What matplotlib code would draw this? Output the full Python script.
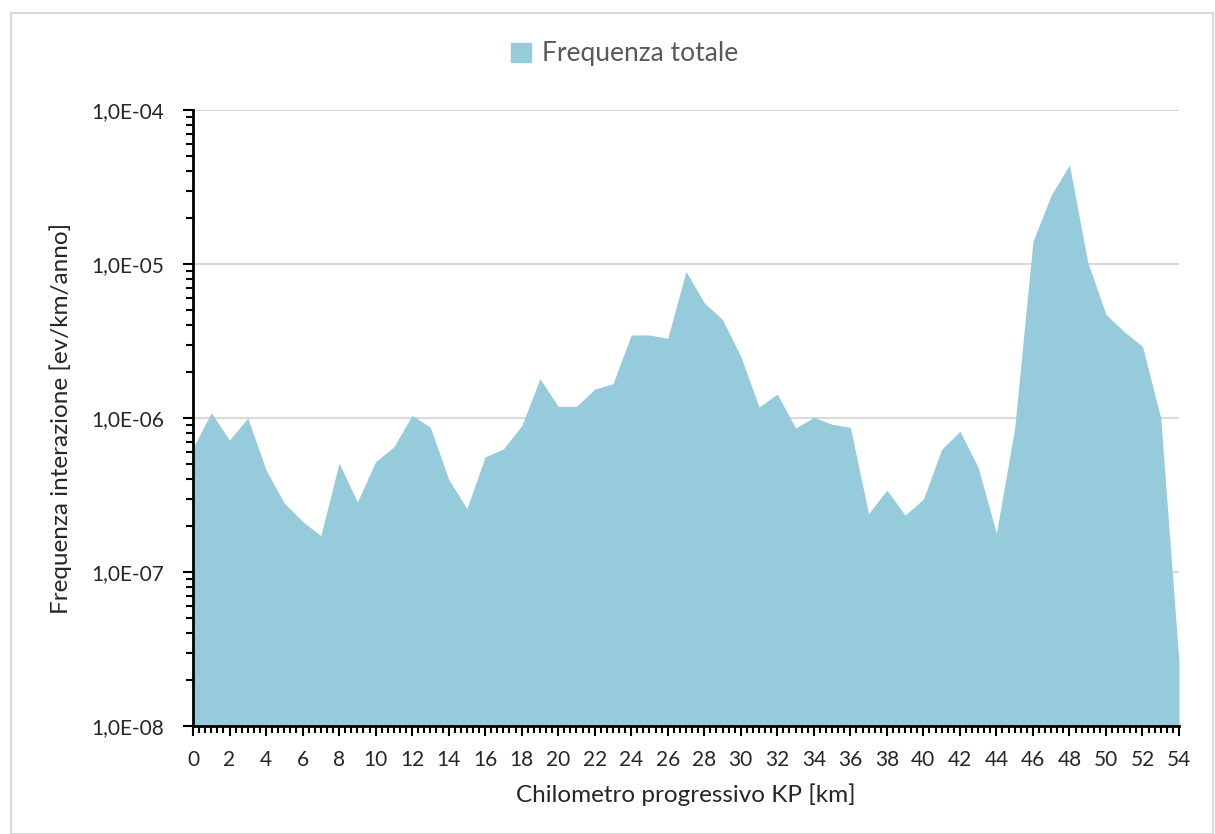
import math
import matplotlib
matplotlib.use('Agg')
from matplotlib import pyplot as plt
from matplotlib.patches import Rectangle, Patch
from matplotlib.ticker import FixedLocator, FuncFormatter, LogLocator, NullFormatter

# km progressivo
km = list(range(0, 55))

# frequenza totale [ev/km/anno]
freq = [
    6.4e-7, 1.08e-6, 7.2e-7, 1.0e-6, 4.6e-7, 2.8e-7, 2.13e-7, 1.72e-7, 5.1e-7, 2.85e-7,
    5.2e-7, 6.5e-7, 1.04e-6, 8.7e-7, 4.0e-7, 2.58e-7, 5.6e-7, 6.3e-7, 8.9e-7, 1.8e-6,
    1.19e-6, 1.19e-6, 1.54e-6, 1.67e-6, 3.46e-6, 3.46e-6, 3.29e-6, 8.95e-6, 5.6e-6, 4.35e-6,
    2.51e-6, 1.18e-6, 1.43e-6, 8.6e-7, 1.01e-6, 9.1e-7, 8.7e-7, 2.39e-7, 3.4e-7, 2.34e-7,
    2.97e-7, 6.25e-7, 8.2e-7, 4.78e-7, 1.78e-7, 8.6e-7, 1.4e-5, 2.8e-5, 4.4e-5, 1.03e-5,
    4.7e-6, 3.63e-6, 2.92e-6, 1.0e-6, 2.6e-8,
]

x_ticks = list(range(0, 55, 2))
y_ticks = [1e-8, 1e-7, 1e-6, 1e-5, 1e-4]

plt.rcParams['font.family'] = ['Lato', 'DejaVu Sans']

fig = plt.figure(figsize=(12.15, 8.34), dpi=100)
fig.patches.append(Rectangle((11 / 1215, 0), 1 - 13 / 1215, 1 - 13 / 834,
                             transform=fig.transFigure, fill=False,
                             edgecolor='#D9D9D9', linewidth=1.5))

ax = fig.add_axes([193 / 1215, 1 - 726 / 834, 986 / 1215, 616 / 834])
ax.fill_between(km, freq, 1e-8, color='#96CBDC', linewidth=0)

ax.set_yscale('log')
ax.set_ylim(1e-8, 1e-4)
ax.set_xlim(0, 54)

ax.yaxis.set_major_locator(FixedLocator(y_ticks))
ax.yaxis.set_minor_locator(LogLocator(base=10, subs=range(2, 10)))
ax.yaxis.set_minor_formatter(NullFormatter())
ax.yaxis.set_major_formatter(FuncFormatter(
    lambda v, p: '1,0E-%02d' % round(-math.log10(v))))

ax.xaxis.set_major_locator(FixedLocator(x_ticks))
ax.xaxis.set_minor_locator(FixedLocator([i / 3 for i in range(0, 163)]))

ax.grid(axis='y', which='major', color='#D9D9D9', linewidth=1.5)
ax.set_axisbelow(True)

for s in ['top', 'right']:
    ax.spines[s].set_visible(False)
for s in ['left', 'bottom']:
    ax.spines[s].set_linewidth(2)
    ax.spines[s].set_zorder(5)

ax.tick_params(axis='both', which='major', length=7, width=1.5, labelsize=15,
               colors='black', labelcolor='#262626')
ax.tick_params(axis='x', which='major', pad=10)
ax.tick_params(axis='y', which='major', pad=14)
ax.tick_params(axis='both', which='minor', length=5, width=1.5)

ax.set_xlabel('Chilometro progressivo KP [km]', fontsize=17.5, labelpad=10,
              color='#262626')
ax.set_ylabel('Frequenza interazione [ev/km/anno]', fontsize=17.5, labelpad=14,
              color='#262626')

fig.legend(handles=[Patch(color='#96CBDC', label='Frequenza totale')],
           loc='center', bbox_to_anchor=(0.514, 1 - 54 / 834), frameon=False,
           fontsize=19, labelcolor='#595959', handlelength=0.75, handleheight=0.75,
           handletextpad=0.4)

fig.savefig('out.png', dpi=100)
